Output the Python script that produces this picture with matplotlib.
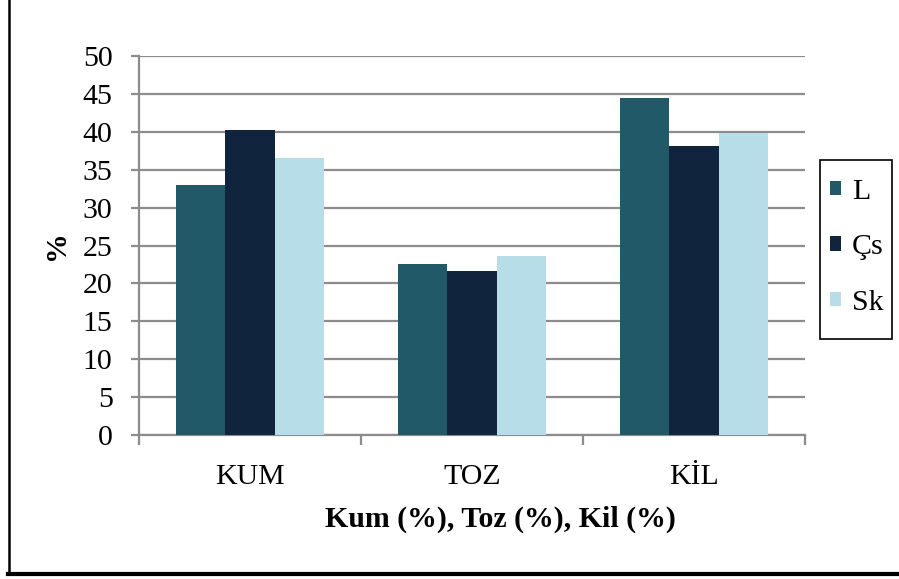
import matplotlib
matplotlib.use("Agg")
import matplotlib.pyplot as plt
from matplotlib.lines import Line2D
from matplotlib.patches import Rectangle
import numpy as np

categories = ["KUM", "TOZ", "KİL"]
series_names = ["L", "Çs", "Sk"]
L_vals = [33.0, 22.6, 44.5]
Cs_vals = [40.3, 21.7, 38.1]
Sk_vals = [36.5, 23.6, 39.9]
y_ticks = [0, 5, 10, 15, 20, 25, 30, 35, 40, 45, 50]

colors = ["#215968", "#10243E", "#B7DEE8"]
values = [L_vals, Cs_vals, Sk_vals]

plt.rcParams["font.family"] = ["Liberation Serif", "DejaVu Serif"]
FS = 21.5

W, H = 899, 579
fig = plt.figure(figsize=(W / 100, H / 100), dpi=100)
ax = fig.add_axes([139 / W, 1 - 435 / H, (805 - 139) / W, (435 - 56) / H])

x = np.arange(len(categories))
w = 0.222
for i, (name, vals, c) in enumerate(zip(series_names, values, colors)):
    ax.bar(x + (i - 1) * w, vals, width=w, color=c, label=name, zorder=3, linewidth=0)

ax.set_xlim(-0.5, 2.5)
ax.set_ylim(0, 50)
ax.set_yticks(y_ticks)
ax.yaxis.grid(True, color="#8c8c8c", linewidth=1.6, zorder=0)
ax.set_axisbelow(True)

for s in ["top", "right"]:
    ax.spines[s].set_visible(False)
for s in ["left", "bottom"]:
    ax.spines[s].set_color("#8c8c8c")
    ax.spines[s].set_linewidth(1.6)

ax.tick_params(axis="y", direction="out", length=6, width=1.6, color="#8c8c8c",
               labelsize=FS, pad=13, labelcolor="black")
ax.set_xticks(x)
ax.set_xticklabels(categories)
ax.tick_params(axis="x", which="major", length=0, labelsize=FS, pad=21)
ax.set_xticks([-0.5, 0.5, 1.5, 2.5], minor=True)
ax.tick_params(axis="x", which="minor", direction="out", length=7, width=1.6, color="#8c8c8c")

# category axis title, centred under the chart area
fig.text(500 / W, 1 - 519 / H, "Kum (%), Toz (%), Kil (%)", fontsize=FS,
         fontweight="bold", ha="center", va="center")
ax.set_ylabel("%", fontsize=FS, fontweight="bold", labelpad=9)

leg = ax.legend(loc="upper left", bbox_to_anchor=(830 / W, 1 - 179 / H),
                bbox_transform=fig.transFigure, frameon=False,
                fontsize=FS, handlelength=0.36, handleheight=0.36, handletextpad=0.38,
                labelspacing=0.98, borderpad=0, borderaxespad=0)

# legend box
fig.add_artist(Rectangle((820 / W, 1 - 339 / H), (892 - 820) / W, (339 - 160) / H,
                         transform=fig.transFigure, fill=False, edgecolor="black",
                         linewidth=1.2))

# outer frame pieces: left edge and heavy bottom rule
fig.add_artist(Line2D([8.5 / W, 8.5 / W], [1 - 574 / H, 1], transform=fig.transFigure,
                      color="black", linewidth=1.8))
fig.add_artist(Line2D([8 / W, 1], [1 - 573.5 / H, 1 - 573.5 / H], transform=fig.transFigure,
                      color="black", linewidth=3))

fig.savefig("out.png", dpi=100)
